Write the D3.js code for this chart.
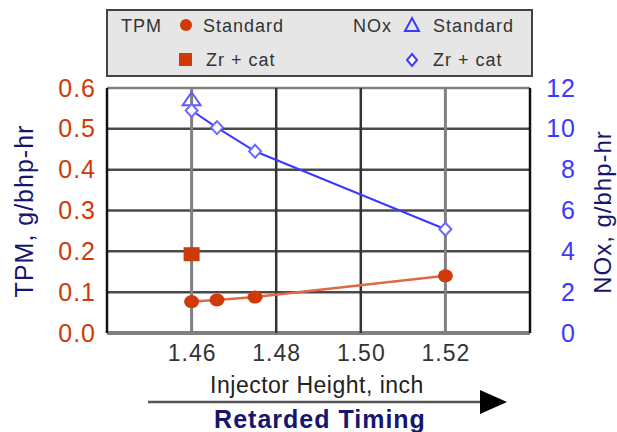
<!DOCTYPE html>
<html>
<head>
<meta charset="utf-8">
<script src="https://cdn.jsdelivr.net/npm/d3@7"></script>
<style>
  html, body { margin: 0; padding: 0; background: #fff; }
  svg { display: block; font-family: "Liberation Sans", Arial, sans-serif; }
</style>
</head>
<body>
<div id="chart"></div>
<script>
// values
const xTickValues = [1.46, 1.48, 1.50, 1.52];
const tpmTicks = [0, 0.1, 0.2, 0.3, 0.4, 0.5, 0.6];
const noxTicks = [0, 2, 4, 6, 8, 10, 12];

const tpmStdX = [1.46, 1.466, 1.475, 1.52];
const tpmStd = [0.077, 0.081, 0.088, 0.14];
const tpmZrX = [1.46];
const tpmZr = [0.193];

const noxStdX = [1.46];
const noxStd = [11.4];
const noxZrX = [1.46, 1.466, 1.475, 1.52];
const noxZr = [10.9, 10.06, 8.9, 5.08];

const orange = "#d03a08";
const blue = "#3a3aff";
const navy = "#16166e";

const width = 617;
const height = 432;
const plot = { left: 107, right: 530, top: 88, bottom: 333 };

const svg = d3
  .select("#chart")
  .append("svg")
  .attr("width", width)
  .attr("height", height);

const x = d3.scaleLinear().domain([1.44, 1.54]).range([plot.left, plot.right]);
const yL = d3.scaleLinear().domain([0, 0.6]).range([plot.bottom, plot.top]);
const yR = d3.scaleLinear().domain([0, 12]).range([plot.bottom, plot.top]);

// legend box
const legend = svg.append("g");
legend
  .append("rect")
  .attr("x", 107)
  .attr("y", 10)
  .attr("width", 425)
  .attr("height", 66)
  .attr("fill", "#e6e6e6")
  .attr("stroke", "#444")
  .attr("stroke-width", 2);

const legText = (tx, ty, s) =>
  legend
    .append("text")
    .attr("x", tx)
    .attr("y", ty)
    .attr("font-size", 18)
    .attr("letter-spacing", 1)
    .attr("fill", "#333")
    .text(s);

legText(121, 32, "TPM");
legText(203, 32, "Standard");
legText(206, 66, "Zr + cat");
legText(353, 32, "NOx");
legText(433, 32, "Standard");
legText(433, 66, "Zr + cat");

legend.append("circle").attr("cx", 186).attr("cy", 25).attr("r", 6).attr("fill", orange);
legend
  .append("rect")
  .attr("x", 179)
  .attr("y", 53)
  .attr("width", 13)
  .attr("height", 13)
  .attr("fill", orange);
legend
  .append("path")
  .attr("d", "M412,18 L419,31 L405,31 Z")
  .attr("fill", "none")
  .attr("stroke", blue)
  .attr("stroke-width", 2);
legend
  .append("path")
  .attr("d", "M412,54 L417,60 L412,66 L407,60 Z")
  .attr("fill", "#fff")
  .attr("stroke", blue)
  .attr("stroke-width", 2);

// plot background and grid
svg
  .append("rect")
  .attr("x", plot.left)
  .attr("y", plot.top)
  .attr("width", plot.right - plot.left)
  .attr("height", plot.bottom - plot.top)
  .attr("fill", "#fff");

const grid = svg.append("g");
grid
  .selectAll("line.h")
  .data(tpmTicks)
  .join("line")
  .attr("class", "h")
  .attr("x1", plot.left)
  .attr("x2", plot.right)
  .attr("y1", (d) => yL(d))
  .attr("y2", (d) => yL(d))
  .attr("stroke", (d, i) => (i === 0 || i === 6 ? "#808080" : "#4a4a4a"))
  .attr("stroke-width", (d, i) => (i === 0 ? 4 : 2.5));

grid
  .selectAll("line.v")
  .data([1.44, 1.46, 1.48, 1.5, 1.52, 1.54])
  .join("line")
  .attr("class", "v")
  .attr("x1", (d) => x(d))
  .attr("x2", (d) => x(d))
  .attr("y1", plot.top)
  .attr("y2", plot.bottom)
  .attr("stroke", (d, i) => (i === 0 || i === 5 ? "#111" : i === 1 || i === 4 ? "#808080" : "#333"))
  .attr("stroke-width", (d, i) => (i === 1 || i === 4 ? 3 : 2.5));

// axes (labels only)
const leftAxis = svg
  .append("g")
  .attr("transform", "translate(96,0)")
  .call(d3.axisLeft(yL).tickValues(tpmTicks).tickSize(0).tickPadding(0).tickFormat(d3.format(".1f")));
leftAxis.select(".domain").remove();
leftAxis
  .selectAll("text")
  .attr("font-family", null)
  .attr("font-size", 25)
  .attr("letter-spacing", 1)
  .attr("fill", orange);

const rightAxis = svg
  .append("g")
  .attr("transform", "translate(576,0)")
  .call(d3.axisLeft(yR).tickValues(noxTicks).tickSize(0).tickPadding(0));
rightAxis.select(".domain").remove();
rightAxis
  .selectAll("text")
  .attr("font-family", null)
  .attr("font-size", 25)
  .attr("letter-spacing", 1)
  .attr("fill", blue);

const bottomAxis = svg
  .append("g")
  .attr("transform", `translate(0,${plot.bottom})`)
  .call(d3.axisBottom(x).tickValues(xTickValues).tickSize(0).tickPadding(12).tickFormat(d3.format(".2f")));
bottomAxis.select(".domain").remove();
bottomAxis
  .selectAll("text")
  .attr("font-family", null)
  .attr("font-size", 23)
  .attr("letter-spacing", 1)
  .attr("fill", "#333");

// TPM series
const tpmLine = d3
  .line()
  .x((d, i) => x(tpmStdX[i]))
  .y((d) => yL(d));
svg
  .append("path")
  .datum(tpmStd)
  .attr("d", tpmLine)
  .attr("fill", "none")
  .attr("stroke", "#dc6a45")
  .attr("stroke-width", 2.5);
svg
  .append("g")
  .selectAll("ellipse")
  .data(tpmStd)
  .join("ellipse")
  .attr("cx", (d, i) => x(tpmStdX[i]))
  .attr("cy", (d) => yL(d))
  .attr("rx", 7.5)
  .attr("ry", 6.5)
  .attr("fill", orange);
svg
  .append("g")
  .selectAll("rect")
  .data(tpmZr)
  .join("rect")
  .attr("x", (d, i) => x(tpmZrX[i]) - 8)
  .attr("y", (d) => yL(d) - 7)
  .attr("width", 16)
  .attr("height", 14)
  .attr("fill", orange);

// NOx series
const noxLine = d3
  .line()
  .x((d, i) => x(noxZrX[i]))
  .y((d) => yR(d));
svg
  .append("path")
  .datum(noxZr)
  .attr("d", noxLine)
  .attr("fill", "none")
  .attr("stroke", blue)
  .attr("stroke-width", 2);
svg
  .append("g")
  .selectAll("path")
  .data(noxStd)
  .join("path")
  .attr("transform", (d, i) => `translate(${x(noxStdX[i])},${yR(d)})`)
  .attr("d", "M0,-8 L9,5 L-9,5 Z")
  .attr("fill", "none")
  .attr("stroke", "#5a5aff")
  .attr("stroke-width", 2);
svg
  .append("g")
  .selectAll("path")
  .data(noxZr)
  .join("path")
  .attr("transform", (d, i) => `translate(${x(noxZrX[i])},${yR(d)})`)
  .attr("d", "M0,-6.5 L6,0 L0,6.5 L-6,0 Z")
  .attr("fill", "#fff")
  .attr("stroke", "#6a6aff")
  .attr("stroke-width", 2);

// axis titles
svg
  .append("text")
  .attr("transform", "translate(33,211) rotate(-90)")
  .attr("text-anchor", "middle")
  .attr("font-size", 25)
  .attr("letter-spacing", 1)
  .attr("fill", navy)
  .text("TPM, g/bhp-hr");

svg
  .append("text")
  .attr("transform", "translate(611,212) rotate(-90)")
  .attr("text-anchor", "middle")
  .attr("font-size", 24)
  .attr("letter-spacing", 1)
  .attr("fill", navy)
  .text("NOx, g/bhp-hr");

svg
  .append("text")
  .attr("x", 317)
  .attr("y", 393)
  .attr("text-anchor", "middle")
  .attr("font-size", 23)
  .attr("letter-spacing", 0.5)
  .attr("fill", "#222")
  .text("Injector Height, inch");

// arrow
svg
  .append("line")
  .attr("x1", 148)
  .attr("x2", 482)
  .attr("y1", 402)
  .attr("y2", 402)
  .attr("stroke", "#555")
  .attr("stroke-width", 2.5);
svg
  .append("path")
  .attr("d", "M480,390 L507,402 L480,414 Z")
  .attr("fill", "#000");

svg
  .append("text")
  .attr("x", 320)
  .attr("y", 428)
  .attr("text-anchor", "middle")
  .attr("font-size", 25)
  .attr("font-weight", "bold")
  .attr("letter-spacing", 1)
  .attr("fill", navy)
  .text("Retarded Timing");
</script>
</body>
</html>
